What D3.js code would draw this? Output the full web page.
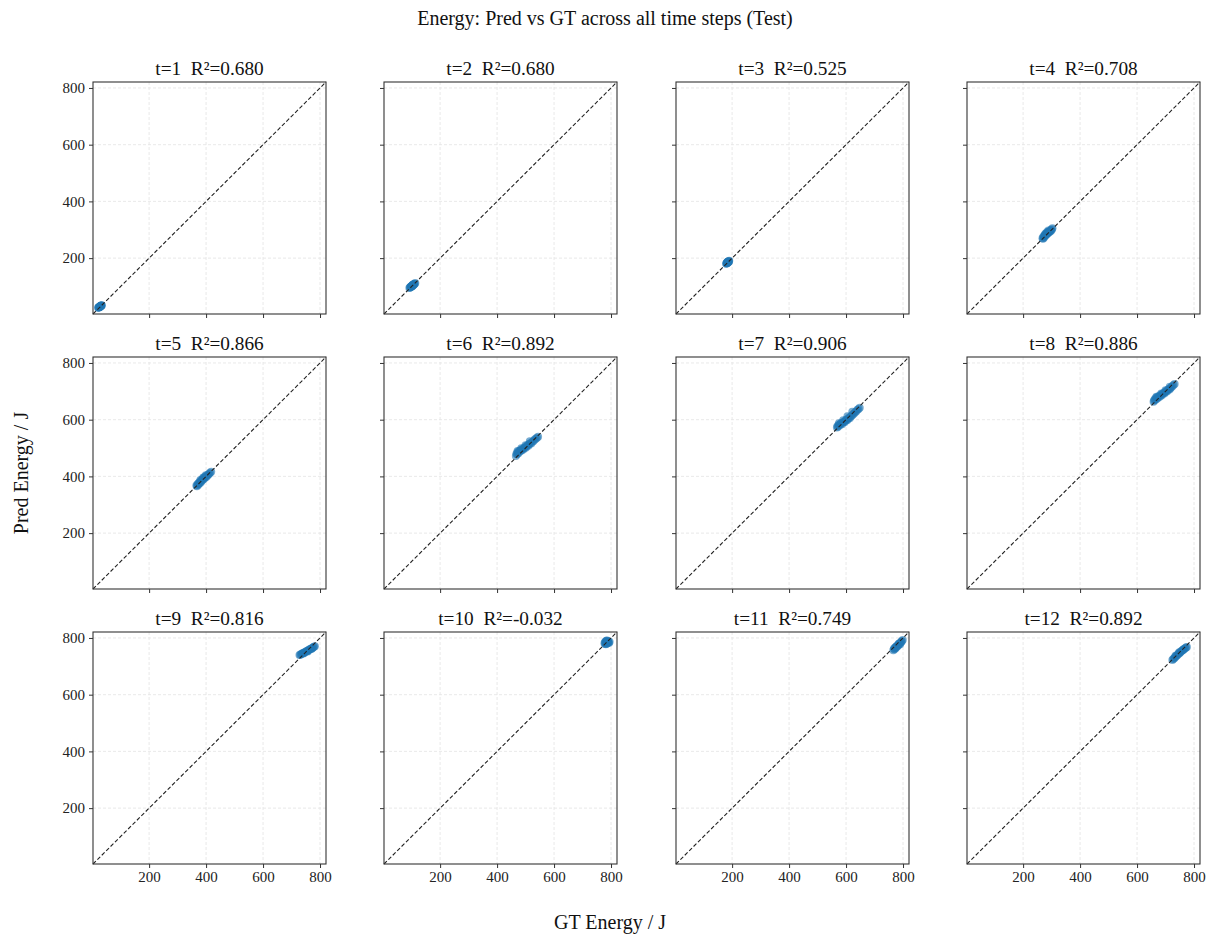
<!DOCTYPE html>
<html>
<head>
<meta charset="utf-8">
<script src="https://cdn.jsdelivr.net/npm/d3@7"></script>
<style>
  html, body { margin: 0; padding: 0; background: #fff; }
  svg { display: block; font-family: "Liberation Serif", "DejaVu Serif", serif; }
</style>
</head>
<body>
<svg id="chart" width="1210" height="934"></svg>
<script>
// Time steps and coefficient of determination per step
const steps = [1, 2, 3, 4, 5, 6, 7, 8, 9, 10, 11, 12];
const r2Values = ["0.680", "0.680", "0.525", "0.708", "0.866", "0.892", "0.906", "0.886", "0.816", "-0.032", "0.749", "0.892"];

// Ground-truth energy (J) of each test sample, one list per time step
const gtValues = [
  [21, 23, 24, 25, 26, 27, 27, 28, 29, 30, 31, 32, 33, 34, 22, 26, 29, 31],
  [92, 94, 96, 97, 99, 100, 101, 102, 103, 104, 105, 106, 108, 109, 111, 113, 98, 104, 107],
  [179, 180, 181, 182, 183, 184, 185, 185, 186, 187, 188, 189, 190, 183, 186],
  [268, 270, 271, 273, 274, 276, 277, 279, 280, 282, 283, 285, 286, 288, 290, 291, 293, 295, 297, 299, 301, 303, 278, 284, 289],
  [366, 368, 370, 372, 373, 375, 377, 379, 381, 383, 385, 387, 389, 391, 393, 395, 397, 400, 402, 405, 408, 411, 414, 418, 380, 390, 399],
  [466, 468, 470, 472, 475, 477, 480, 483, 486, 489, 492, 495, 498, 501, 504, 507, 510, 513, 516, 520, 524, 528, 532, 536, 540, 544, 472, 485, 500, 515],
  [568, 570, 572, 575, 578, 580, 583, 586, 589, 592, 595, 598, 601, 604, 607, 610, 613, 616, 620, 624, 628, 632, 636, 640, 644, 648, 575, 590, 605, 622],
  [658, 660, 662, 665, 667, 670, 672, 675, 678, 681, 684, 687, 690, 693, 696, 699, 702, 705, 708, 711, 714, 717, 720, 724, 728, 732, 668, 685, 700, 715],
  [728, 731, 734, 737, 740, 743, 746, 749, 752, 755, 758, 761, 764, 767, 770, 773, 776, 779, 782, 742, 757, 771],
  [777, 779, 780, 781, 782, 783, 784, 785, 786, 787, 788, 789, 790, 791, 793, 795, 782, 786],
  [766, 768, 770, 772, 774, 776, 778, 780, 782, 784, 786, 788, 790, 792, 794, 796, 799, 775, 785],
  [724, 727, 730, 733, 736, 739, 742, 745, 748, 751, 754, 757, 760, 763, 766, 769, 772, 775, 735, 748, 762]
];

// Predicted energy (J) for the same samples
const predValues = [
  [25, 26, 27, 27, 28, 29, 28, 30, 31, 30, 32, 32, 33, 34, 26, 29, 30, 33],
  [95, 96, 97, 99, 100, 101, 100, 103, 104, 103, 106, 105, 107, 109, 110, 112, 101, 106, 108],
  [180, 181, 183, 182, 184, 185, 186, 184, 187, 186, 189, 188, 191, 186, 188],
  [270, 268, 275, 272, 279, 277, 282, 280, 285, 283, 288, 286, 290, 289, 293, 291, 295, 294, 299, 297, 302, 305, 286, 292, 297],
  [368, 365, 372, 370, 376, 374, 379, 377, 384, 381, 386, 389, 388, 394, 392, 397, 396, 401, 399, 404, 407, 409, 413, 416, 387, 396, 404],
  [472, 480, 478, 485, 482, 490, 488, 493, 491, 497, 495, 500, 503, 501, 507, 510, 508, 514, 517, 516, 522, 525, 530, 533, 536, 540, 490, 499, 510, 524],
  [572, 578, 575, 582, 580, 585, 588, 584, 590, 593, 591, 597, 600, 598, 603, 607, 605, 611, 614, 618, 622, 626, 630, 635, 638, 642, 587, 598, 612, 628],
  [663, 668, 672, 670, 677, 674, 680, 678, 684, 682, 688, 686, 691, 694, 692, 698, 701, 699, 705, 708, 706, 711, 714, 718, 722, 726, 681, 692, 704, 716],
  [740, 741, 743, 745, 746, 748, 749, 751, 753, 754, 756, 758, 760, 761, 763, 765, 767, 769, 771, 745, 752, 762],
  [781, 786, 779, 784, 788, 782, 790, 780, 785, 787, 783, 789, 784, 786, 782, 787, 778, 791],
  [757, 762, 760, 766, 764, 769, 772, 770, 775, 774, 779, 781, 778, 784, 787, 789, 793, 767, 780],
  [722, 726, 728, 732, 734, 738, 740, 744, 745, 749, 751, 755, 757, 759, 762, 764, 766, 768, 737, 750, 758]
];

const tickValues = [200, 400, 600, 800];
const axisDomain = [3, 821];

// Figure geometry
const colLefts = [93, 384, 676, 967];
const rowTops = [82, 357, 632];
const panelW = 233, panelH = 232;

const svg = d3.select("#chart");

svg.append("text")
  .attr("x", 605).attr("y", 25)
  .attr("text-anchor", "middle")
  .attr("font-size", 20)
  .attr("fill", "#111")
  .text("Energy: Pred vs GT across all time steps (Test)");

svg.append("text")
  .attr("x", 610).attr("y", 929)
  .attr("text-anchor", "middle")
  .attr("font-size", 20)
  .attr("fill", "#111")
  .text("GT Energy / J");

svg.append("text")
  .attr("transform", "translate(28,473) rotate(-90)")
  .attr("text-anchor", "middle")
  .attr("font-size", 20)
  .attr("fill", "#111")
  .text("Pred Energy / J");

steps.forEach((step, i) => {
  const row = Math.floor(i / 4), col = i % 4;
  const x0 = colLefts[col], y0 = rowTops[row];

  const x = d3.scaleLinear().domain(axisDomain).range([0, panelW]);
  const y = d3.scaleLinear().domain(axisDomain).range([panelH, 0]);

  const g = svg.append("g").attr("transform", `translate(${x0},${y0})`);

  // light dashed grid
  const grid = g.append("g").attr("stroke", "#d9d9d9").attr("stroke-width", 0.8)
    .attr("stroke-dasharray", "3,2").attr("opacity", 0.7);
  tickValues.forEach(v => {
    grid.append("line").attr("x1", x(v)).attr("x2", x(v)).attr("y1", 0).attr("y2", panelH);
    grid.append("line").attr("y1", y(v)).attr("y2", y(v)).attr("x1", 0).attr("x2", panelW);
  });

  // sample points
  const pts = gtValues[i].map((gv, k) => [gv, predValues[i][k]]);
  g.append("g").selectAll("circle").data(pts).join("circle")
    .attr("cx", d => x(d[0]))
    .attr("cy", d => y(d[1]))
    .attr("r", 4)
    .attr("fill", "#1f77b4")
    .attr("fill-opacity", 0.6);

  // identity line
  g.append("line")
    .attr("x1", x(axisDomain[0])).attr("y1", y(axisDomain[0]))
    .attr("x2", x(axisDomain[1])).attr("y2", y(axisDomain[1]))
    .attr("stroke", "#222").attr("stroke-width", 1.1)
    .attr("stroke-dasharray", "4,2.2");

  // axes
  const xAxis = d3.axisBottom(x).tickValues(tickValues).tickSize(4).tickPadding(3)
    .tickFormat(row === 2 ? d3.format("d") : () => "");
  const yAxis = d3.axisLeft(y).tickValues(tickValues).tickSize(4).tickPadding(4)
    .tickFormat(col === 0 ? d3.format("d") : () => "");

  const xa = g.append("g").attr("transform", `translate(0,${panelH})`).call(xAxis);
  const ya = g.append("g").call(yAxis);
  [xa, ya].forEach(a => {
    a.attr("font-size", 15).attr("font-family", "'Liberation Serif', 'DejaVu Serif', serif");
    a.select(".domain").remove();
    a.selectAll("line").attr("stroke", "#333").attr("stroke-width", 1);
    a.selectAll("text").attr("fill", "#222");
  });

  // frame
  g.append("rect").attr("width", panelW).attr("height", panelH)
    .attr("fill", "none").attr("stroke", "#333").attr("stroke-width", 1.1);

  // panel title
  g.append("text")
    .attr("x", panelW / 2).attr("y", -7)
    .attr("text-anchor", "middle")
    .attr("font-size", 19.3)
    .attr("fill", "#111")
    .attr("xml:space", "preserve")
    .text(`t=${step}  R²=${r2Values[i]}`);
});
</script>
</body>
</html>
